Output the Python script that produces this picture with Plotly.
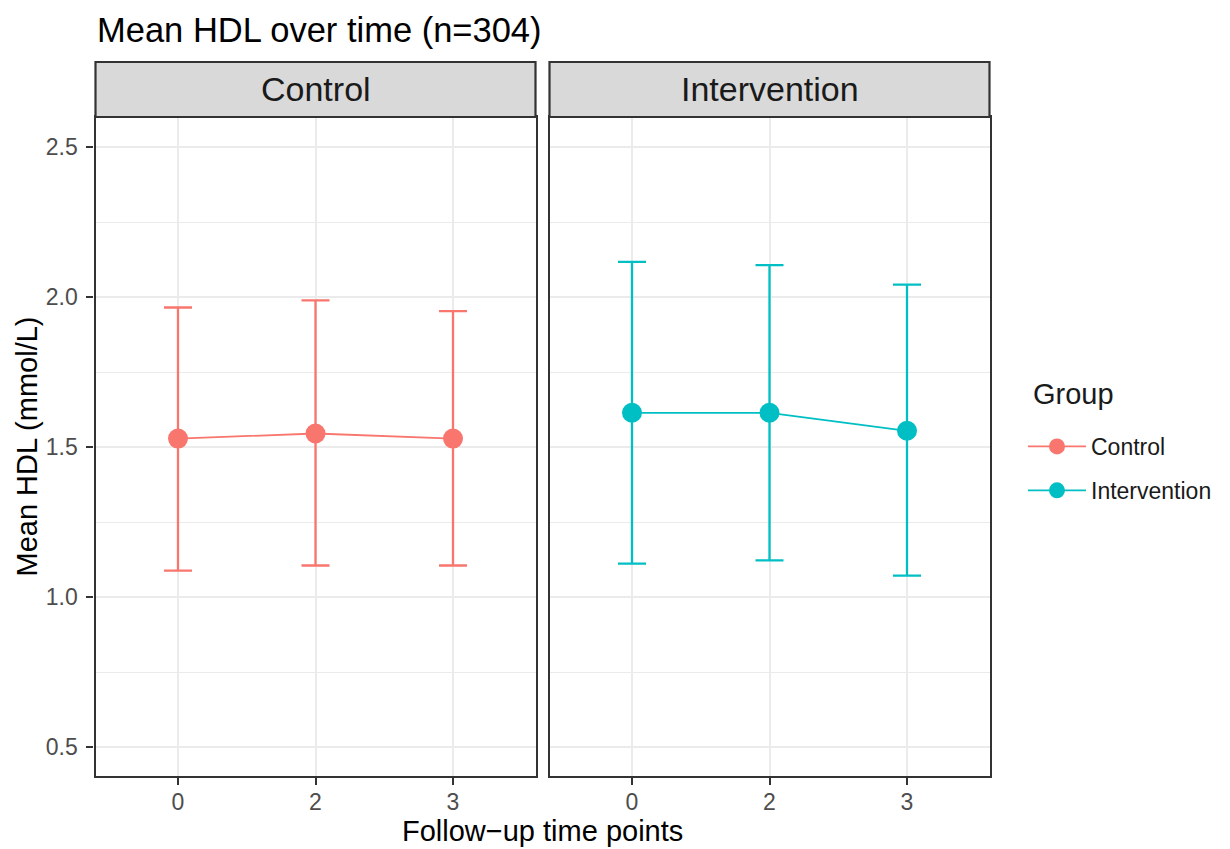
import plotly.graph_objects as go

# ---- data ----
timepoints = ["0", "2", "3"]
groups = ["Control", "Intervention"]
control_mean = [1.528, 1.545, 1.528]
control_upper = [1.965, 1.989, 1.953]
control_lower = [1.088, 1.105, 1.105]
interv_mean = [1.614, 1.614, 1.554]
interv_upper = [2.117, 2.106, 2.041]
interv_lower = [1.111, 1.122, 1.071]
y_ticks = [0.5, 1.0, 1.5, 2.0, 2.5]
y_ticklabels = ["0.5", "1.0", "1.5", "2.0", "2.5"]
y_minor = [0.75, 1.25, 1.75, 2.25]

colors = {"Control": "#F8766D", "Intervention": "#00BFC4"}
FONT = "Liberation Sans, Arial, sans-serif"
OFF = 8                     # default page body margin
FW, FH = 1230 - OFF, 849 - OFF


def px_x(p):
    return (p - OFF) / FW


def px_y(p):
    return 1 - (p - OFF) / FH


fig = go.Figure()

series = [
    ("Control", control_mean, control_upper, control_lower, "x", "y"),
    ("Intervention", interv_mean, interv_upper, interv_lower, "x2", "y2"),
]
for name, m, u, l, xa, ya in series:
    fig.add_trace(go.Scatter(
        x=timepoints, y=m, mode="lines+markers", name=name,
        xaxis=xa, yaxis=ya,
        line=dict(color=colors[name], width=1.8),
        marker=dict(color=colors[name], size=20),
        error_y=dict(type="data", symmetric=False,
                     array=[a - b for a, b in zip(u, m)],
                     arrayminus=[b - c for b, c in zip(m, l)],
                     color=colors[name], thickness=2.3, width=14),
        legendgroup=name,
    ))

left = (95.5, 535.5)
right = (549.5, 989.5)
top, bottom = 117, 776
strip_top = 62

yrange = [0.5 - (bottom - 747) / 300, 2.6]
tickfont = dict(family=FONT, size=23, color="#4d4d4d")
common_x = dict(type="category", range=[-0.6, 2.6], showgrid=True,
                gridcolor="#ebebeb", gridwidth=2.2, zeroline=False,
                showline=True, linecolor="#333333", linewidth=2.2, mirror=True,
                ticks="outside", ticklen=7, tickcolor="#333333", tickwidth=2,
                tickfont=tickfont, ticklabelstandoff=-3)
common_y = dict(range=yrange, tickvals=y_ticks, ticktext=y_ticklabels,
                showgrid=True, gridcolor="#ebebeb", gridwidth=2.2, zeroline=False,
                showline=True, linecolor="#333333", linewidth=2.2, mirror=True,
                minor=dict(tickvals=y_minor, showgrid=True,
                           gridcolor="#ebebeb", gridwidth=1.1, ticks=""),
                tickfont=tickfont,
                domain=[px_y(bottom), px_y(top)])

fig.update_layout(
    width=FW, height=FH,
    margin=dict(l=0, r=0, t=0, b=0),
    plot_bgcolor="white", paper_bgcolor="white",
    font=dict(family=FONT, color="#1a1a1a"),
    xaxis=dict(common_x, domain=[px_x(left[0]), px_x(left[1])], anchor="y"),
    xaxis2=dict(common_x, domain=[px_x(right[0]), px_x(right[1])], anchor="y2"),
    yaxis=dict(common_y, anchor="x", ticks="outside", ticklen=7,
               tickcolor="#333333", tickwidth=2, ticklabelstandoff=4),
    yaxis2=dict(common_y, anchor="x2", showticklabels=False, ticks="", matches="y"),
    showlegend=True,
    legend=dict(x=px_x(1023), y=px_y(425), xanchor="left", yanchor="top",
                font=dict(size=23, color="#1a1a1a"), tracegroupgap=11,
                itemwidth=58, bgcolor="rgba(0,0,0,0)"),
)

# legend title
fig.add_annotation(text="Group", xref="paper", yref="paper",
                   x=px_x(1031), y=px_y(394), xanchor="left", yanchor="middle",
                   showarrow=False, font=dict(size=29, color="#1a1a1a"))

# strips
for (x0, x1), name in zip([left, right], groups):
    fig.add_shape(type="rect", xref="paper", yref="paper",
                  x0=px_x(x0), x1=px_x(x1), y0=px_y(top), y1=px_y(strip_top),
                  fillcolor="#d9d9d9", line=dict(color="#333333", width=2.2))
    fig.add_annotation(text=name, xref="paper", yref="paper",
                       x=px_x((x0 + x1) / 2), y=px_y((top + strip_top) / 2),
                       showarrow=False, font=dict(size=34, color="#1a1a1a"),
                       xanchor="center", yanchor="middle")

# title
fig.add_annotation(text="Mean HDL over time (n=304)", xref="paper", yref="paper",
                   x=px_x(95), y=px_y(30), xanchor="left", yanchor="middle",
                   showarrow=False, font=dict(size=34.5, color="black"))
# x title
fig.add_annotation(text="Follow\u2212up time points", xref="paper", yref="paper",
                   x=px_x((left[0] + right[1]) / 2), y=px_y(831), xanchor="center",
                   yanchor="middle", showarrow=False, font=dict(size=29, color="black"))
# y title
fig.add_annotation(text="Mean HDL (mmol/L)", xref="paper", yref="paper",
                   x=px_x(27), y=px_y((top + bottom) / 2), xanchor="center",
                   yanchor="middle", textangle=-90, showarrow=False,
                   font=dict(size=29, color="black"))

fig.write_html("out.html")
